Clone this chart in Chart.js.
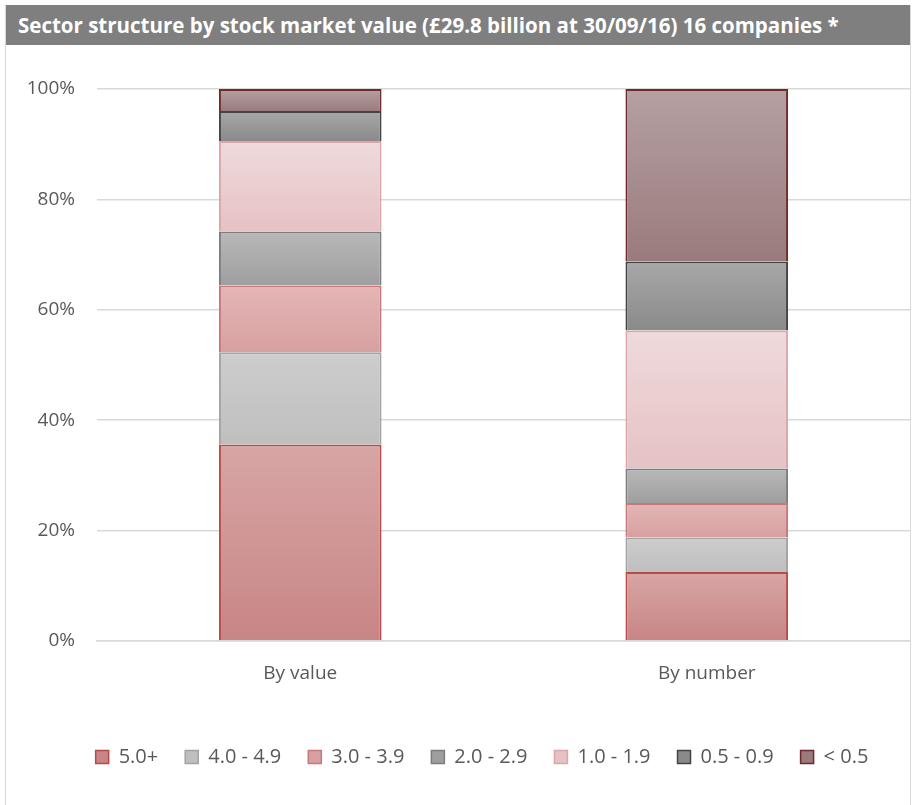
<!DOCTYPE html>
<html>
<head>
<meta charset="utf-8">
<script src="https://cdn.jsdelivr.net/npm/chart.js@4.4.0/dist/chart.umd.min.js"></script>
<style>
    body { margin: 0; background: #ffffff; }
    #frame { position: absolute; left: 5px; top: 5px; width: 904px; height: 810px; border-left: 1.5px solid #d9d9d9; border-right: 1.5px solid #d9d9d9; }
    #title { height: 40px; line-height: 40px; background: #7f7f7f; color: #ffffff; font-family: "Open Sans", sans-serif; font-weight: bold; font-size: 20.5px; padding-left: 12px; white-space: nowrap; }
    #wrap { position: relative; width: 904px; height: 754px; }
</style>
</head>
<body>
<div id="frame">
    <div id="title">Sector structure by stock market value (£29.8 billion at 30/09/16) 16 companies *</div>
    <div id="wrap"><canvas id="sector-chart"></canvas></div>
</div>
<script>
    // Data
    var categories = ["By value", "By number"];
    var bands = ["5.0+", "4.0 - 4.9", "3.0 - 3.9", "2.0 - 2.9", "1.0 - 1.9", "0.5 - 0.9", "< 0.5"];
    var band50 = [35.6, 12.5];
    var band40 = [16.7, 6.25];
    var band30 = [12.1, 6.25];
    var band20 = [9.8, 6.25];
    var band10 = [16.4, 25.0];
    var band05 = [5.4, 12.5];
    var bandLow = [4.0, 31.25];
    var yTicks = [0, 20, 40, 60, 80, 100];

    var series = [band50, band40, band30, band20, band10, band05, bandLow];

    // top colour, bottom colour, border
    var styles = [
        ["#d8a5a5", "#c88585", "#b84a4a"],
        ["#cdcdcd", "#bfbfbf", "#a3a3a3"],
        ["#e3b6b6", "#d8a0a0", "#c77878"],
        ["#b8b8b8", "#9f9f9f", "#7d7d7d"],
        ["#efdadc", "#e6c2c4", "#dca6a9"],
        ["#a8a8a8", "#8a8a8a", "#444444"],
        ["#b5a0a2", "#9a7b7d", "#6e2a2c"]
    ];

    // vertical gradient per segment, from the y scale
    function gradient(k) {
        return function (c) {
            var chart = c.chart;
            var y = chart.scales && chart.scales.y;
            if (!y || c.type !== 'data') return styles[k][1];
            var start = 0;
            for (var j = 0; j < k; j++) start += series[j][c.dataIndex];
            var end = start + series[k][c.dataIndex];
            var y0 = y.getPixelForValue(end), y1 = y.getPixelForValue(start);
            if (!isFinite(y0) || !isFinite(y1) || y0 === y1) return styles[k][1];
            var g = chart.ctx.createLinearGradient(0, y0, 0, y1);
            g.addColorStop(0, styles[k][0]);
            g.addColorStop(1, styles[k][1]);
            return g;
        };
    }

    var datasets = series.map(function (s, k) {
        return {
            label: bands[k],
            data: s,
            backgroundColor: gradient(k),
            borderColor: styles[k][2],
            borderWidth: 2,
            categoryPercentage: 0.8,
            barPercentage: 0.5
        };
    });

    // legend sits a little right of centre, under the plot
    var legendShift = {
        id: "legendShift",
        afterLayout: function (chart) {
            if (chart.legend) {
                chart.legend.left += 24;
                chart.legend.right += 24;
            }
        }
    };

    var grey = "#595959";
    var ctx = document.getElementById("sector-chart").getContext("2d");
    var myChart = new Chart(ctx, {
        type: "bar",
        data: { labels: categories, datasets: datasets },
        plugins: [legendShift],
        options: {
            responsive: true,
            maintainAspectRatio: false,
            animation: false,
            layout: { padding: { top: 44, right: 0, left: 0, bottom: 22 } },
            scales: {
                x: {
                    stacked: true,
                    grid: { display: false },
                    border: { color: "#d9d9d9", width: 1.5 },
                    afterFit: function (scale) { scale.height = 79; },
                    ticks: { color: grey, font: { family: "Open Sans", size: 19 }, padding: 13 }
                },
                y: {
                    stacked: true,
                    min: 0,
                    max: 100,
                    afterBuildTicks: function (scale) {
                        scale.ticks = yTicks.map(function (v) { return { value: v }; });
                    },
                    afterFit: function (scale) { scale.width = 91; },
                    grid: { color: "#d9d9d9", lineWidth: 1.5, drawTicks: false },
                    border: { display: false },
                    ticks: {
                        color: grey,
                        padding: 22,
                        font: { family: "Open Sans", size: 19 },
                        callback: function (v) { return v + "%"; }
                    }
                }
            },
            plugins: {
                tooltip: { enabled: false },
                legend: {
                    position: "bottom",
                    labels: {
                        color: grey,
                        boxWidth: 13,
                        boxHeight: 13,
                        padding: 27,
                        font: { family: "Open Sans", size: 20 },
                        generateLabels: function (chart) {
                            return bands.map(function (b, k) {
                                return {
                                    text: b,
                                    fillStyle: styles[k][1],
                                    strokeStyle: styles[k][2],
                                    lineWidth: 1.5,
                                    fontColor: grey,
                                    datasetIndex: k,
                                    hidden: false
                                };
                            });
                        }
                    }
                }
            }
        }
    });
</script>
</body>
</html>
